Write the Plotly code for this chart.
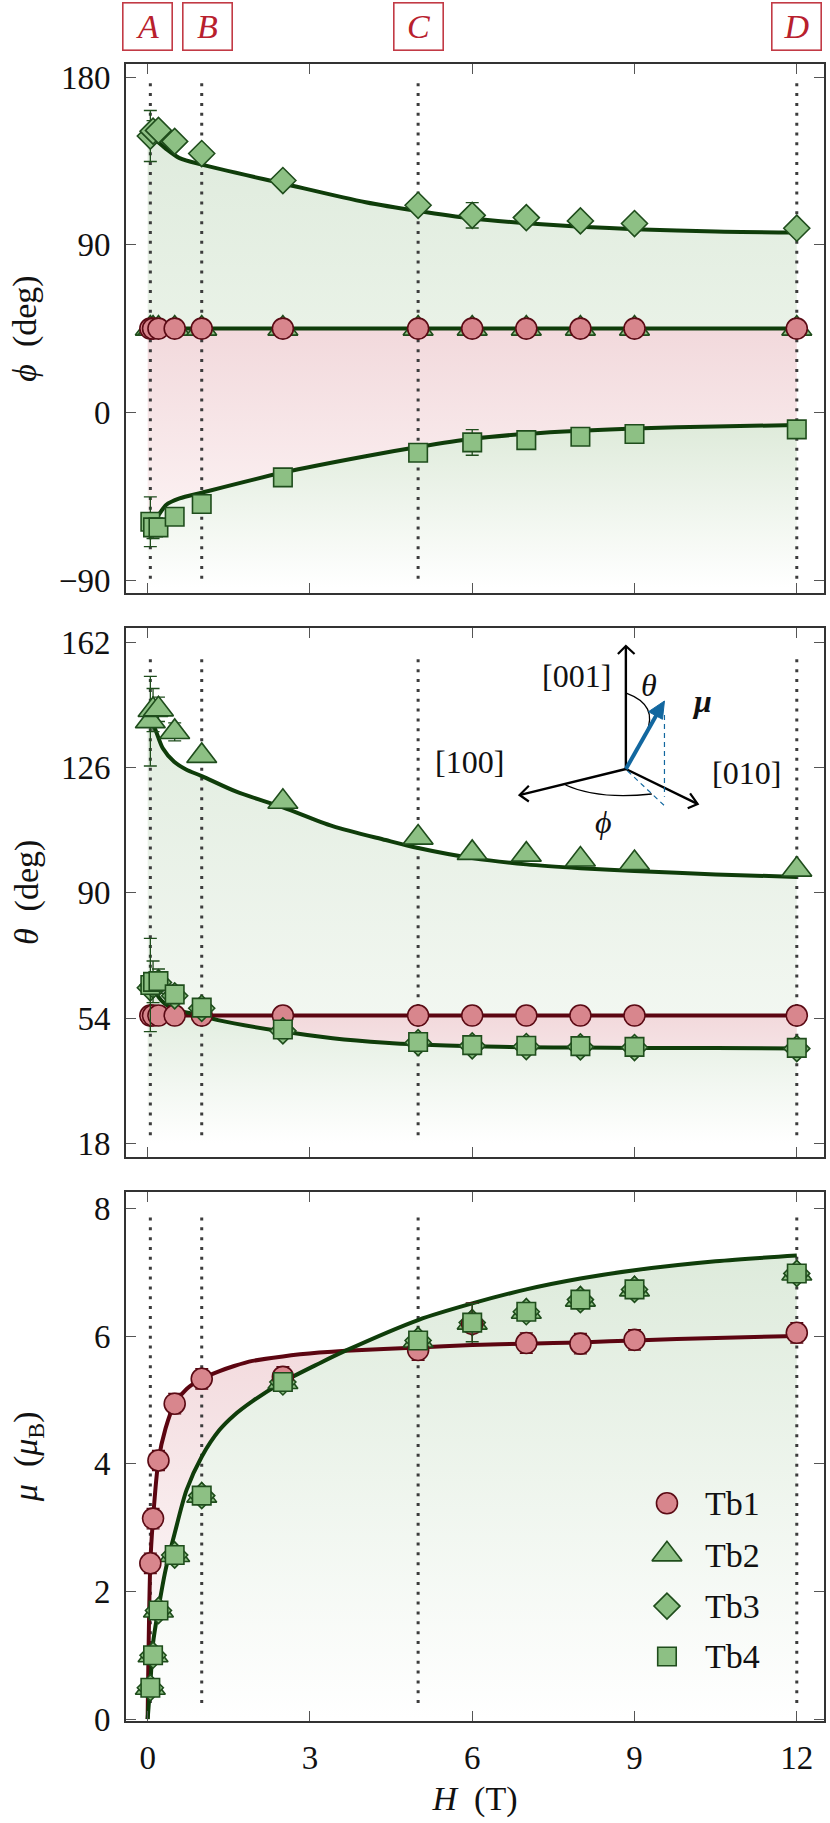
import plotly.graph_objects as go

# ---------- data ----------
H = [0.05, 0.1, 0.2, 0.5, 1, 2.5, 5, 6, 7, 8, 9, 12]

phi_tb1 = [45] * 12
phi_tb2 = [45] * 12
phi_tb3 = [148.4, 151, 151.4, 145.5, 139, 124.5, 111.2, 105.8, 104.6, 102.8, 101.4, 98.9]
phi_tb4 = [-58.7, -61.7, -61.7, -56, -49.2, -34.9, -21.7, -16.1, -14.9, -13.1, -11.6, -9.1]
phi_tb3_err = [13.7, 5.7, 0, 0, 0, 0, 0, 6.8, 0, 0, 0, 0]
phi_tb4_err = [13.4, 6, 0, 0, 0, 0, 0, 6.9, 0, 0, 0, 0]

phi_x = [0, 0.05, 0.1, 0.2, 0.34, 0.59, 1, 2.5, 4.03, 5, 6, 7, 8, 9, 10.5, 12]
phi_fit_tb3 = [151, 148.5, 147, 145, 141.5, 136.5, 133, 122.9, 112.8, 108.1, 104.1, 101.6, 99.7, 98.4, 97.1, 96.6]
phi_fit_tb4 = [-61, -59.5, -58, -55.1, -49.7, -46.2, -43.1, -32.3, -23.5, -18.6, -14.2, -11.5, -9.8, -8.7, -7.5, -6.8]
phi_fit_tb1 = [45] * 16

theta_tb1 = [54.7] * 12
theta_tb2 = [139.4, 142.6, 142.8, 136.3, 129.4, 116.2, 105.9, 101.5, 101, 99.6, 98.6, 96.7]
theta_tb3 = [62.7, 63.5, 64.2, 60.4, 56.8, 50.3, 46.9, 46, 45.8, 45.7, 45.5, 45.2]
theta_tb4 = [63.5, 64.4, 64.6, 60.8, 57, 50.7, 47.1, 46.2, 46, 45.9, 45.7, 45.4]
theta_tb2_err = [12.9, 6.2, 3.5, 2.6, 0, 0, 0, 0, 0, 0, 0, 0]
theta_tb4_err = [13.4, 6, 3.5, 2, 0, 0, 0, 0, 0, 0, 0, 0]

theta_up_x = [0, 0.05, 0.147, 0.28, 0.49, 0.71, 1, 1.64, 2.5, 3.42, 4.4, 5, 6, 7, 8, 9, 10.5, 12]
theta_fit_up = [141, 140, 136.8, 131.6, 127.7, 125.5, 123.6, 119.1, 114.6, 109.2, 105.2, 102.9, 100, 98.2, 97.1, 96.3, 95.3, 94.6]
theta_low_x = [0, 0.05, 0.1, 0.2, 0.45, 1, 1.3, 2.5, 3.42, 4.4, 5, 6, 7, 8, 9, 10.5, 12]
theta_fit_low = [66, 65, 64, 60.1, 56.8, 54.7, 53.4, 50.1, 48.2, 46.9, 46.4, 45.9, 45.6, 45.5, 45.4, 45.4, 45.2]
theta_fit_mid = [54.7] * 17

mu_tb1 = [2.44, 3.14, 4.05, 4.94, 5.33, 5.36, 5.78, 6.19, 5.89, 5.88, 5.94, 6.05]
mu_tb2 = [0.49, 1.0, 1.7, 2.57, 3.5, 5.28, 5.93, 6.21, 6.38, 6.57, 6.73, 6.98]
mu_tb3 = [0.49, 1.0, 1.7, 2.57, 3.5, 5.28, 5.93, 6.21, 6.38, 6.57, 6.73, 6.98]
mu_tb4 = [0.49, 1.0, 1.7, 2.57, 3.5, 5.28, 5.93, 6.21, 6.38, 6.57, 6.73, 6.98]
mu_tb1_err = [0.16, 0.16, 0.16, 0.16, 0.16, 0.16, 0.16, 0.33, 0.16, 0.16, 0.16, 0.16]
mu_tb4_err = [0, 0, 0, 0, 0, 0, 0, 0.3, 0, 0, 0, 0]

mu_x = [0, 0.05, 0.1, 0.2, 0.33, 0.5, 0.72, 1, 1.33, 1.6, 1.94, 2.5, 3.17, 3.66, 5, 6, 7, 8, 9, 10.5, 12]
mu_fit_red = [0, 2.44, 3.14, 4.05, 4.55, 4.94, 5.17, 5.33, 5.45, 5.53, 5.61, 5.68, 5.74, 5.77, 5.82, 5.86, 5.88, 5.9, 5.93, 5.97, 6.0]
mu_fit_green = [0, 0.55, 1.19, 1.73, 2.33, 2.91, 3.59, 4.11, 4.53, 4.76, 4.98, 5.28, 5.57, 5.77, 6.25, 6.51, 6.73, 6.9, 7.03, 7.17, 7.26]

x_ticks = [0, 3, 6, 9, 12]
phi_ticks = [-90, 0, 90, 180]
theta_ticks = [18, 54, 90, 126, 162]
mu_ticks = [0, 2, 4, 6, 8]
markers_field = [0.05, 1, 5, 12]
marker_labels = ["A", "B", "C", "D"]
marker_label_px = [147.5, 207.5, 419.5, 798]
species = ["Tb1", "Tb2", "Tb3", "Tb4"]
legend_x = 9.6
legend_y = [3.38, 2.58, 1.77, 0.98]
legend_text_y = [3.38, 2.57, 1.77, 0.98]

# ---------- style ----------
W, H_PX = 830, 1823
L, R, T, B = 126, 4, 64, 102
PW, PH = W - L - R, H_PX - T - B
FONT = "Liberation Serif"
GREEN = "#8dc084"; GREEN_E = "#1f4d1c"; PINK = "#d8868d"; PINK_E = "#5a0a14"
LINE_G = "#0f3d0a"; LINE_R = "#5c0511"; BLUE = "#12679f"; BOXRED = "#b8202d"
SMOOTH = 0.8


def px(x, y):
    return (x - L) / PW, (H_PX - B - y) / PH


def dom(y_top, y_bot):
    return [(H_PX - B - y_bot) / PH, (H_PX - B - y_top) / PH]


fig = go.Figure()


def add(tr, n):
    tr.update(xaxis="x" if n == 1 else f"x{n}", yaxis="y" if n == 1 else f"y{n}",
              showlegend=False)
    fig.add_trace(tr)


def band(n, xlow, ylow, xup, yup, c_bottom, c_top, g0, g1):
    add(go.Scatter(x=xlow, y=ylow, mode="lines",
                   line=dict(width=0, shape="spline", smoothing=SMOOTH), hoverinfo="skip"), n)
    add(go.Scatter(x=xup, y=yup, mode="lines",
                   line=dict(width=0, shape="spline", smoothing=SMOOTH),
                   fill="tonexty", hoverinfo="skip",
                   fillgradient=dict(type="vertical", start=g0, stop=g1,
                                     colorscale=[[0, c_bottom], [1, c_top]])), n)


def curve(n, x, y, color):
    add(go.Scatter(x=x, y=y, mode="lines", hoverinfo="skip",
                   line=dict(color=color, width=4, shape="spline", smoothing=SMOOTH)), n)


def dots(n, y0, y1):
    for xv in markers_field:
        add(go.Scatter(x=[xv, xv], y=[y0, y1], mode="lines", hoverinfo="skip",
                       line=dict(color="#3c3c3c", width=3, dash="3px,6.85px")), n)


def pts(n, name, x, y, sym, err=None):
    fill, edge = (PINK, PINK_E) if name == "Tb1" else (GREEN, GREEN_E)
    size = {"circle": 21, "triangle-up": 26, "diamond": 20, "square": 18.5}[sym]
    tr = go.Scatter(x=x, y=y, mode="markers", name=name,
                    marker=dict(symbol=sym, size=size, color=fill,
                                line=dict(color=edge, width=1.6)))
    if err is not None:
        tr.update(error_y=dict(type="data", array=err, color=edge, thickness=1.3, width=6.5))
    add(tr, n)


SYM = dict(zip(species, ["circle", "triangle-up", "diamond", "square"]))

# ---- panel 1: phi
band(1, phi_x, phi_fit_tb1, phi_x, phi_fit_tb3, "#e9f2e7", "#dfebdd", 45, 150)
band(1, phi_x, phi_fit_tb4, phi_x, phi_fit_tb1, "#fcf2f3", "#f2d9dc", -60, 45)
band(1, phi_x, [-96] * len(phi_x), phi_x, phi_fit_tb4, "#ffffff", "#dfebdb", -94, -8)
dots(1, -89.3, 180)
curve(1, phi_x, phi_fit_tb3, LINE_G)
curve(1, phi_x, phi_fit_tb1, LINE_G)
curve(1, phi_x, phi_fit_tb4, LINE_G)
pts(1, "Tb2", H, phi_tb2, SYM["Tb2"])
pts(1, "Tb1", H, phi_tb1, SYM["Tb1"])
pts(1, "Tb3", H, phi_tb3, SYM["Tb3"], phi_tb3_err)
pts(1, "Tb4", H, phi_tb4, SYM["Tb4"], phi_tb4_err)

# ---- panel 2: theta
upper_base = [max(v, m) for v, m in zip(theta_fit_low, theta_fit_mid)]
band(2, theta_low_x, upper_base, theta_up_x, theta_fit_up, "#f2f7f1", "#e2ede0", 54, 140)
band(2, theta_low_x[5:], theta_fit_low[5:], theta_low_x[5:], theta_fit_mid[5:], "#f5e2e4", "#f2d9dc", 45, 54.7)
band(2, theta_low_x, [15] * len(theta_low_x), theta_low_x, theta_fit_low, "#ffffff", "#e3eee1", 18, 54)
dots(2, 20.3, 158.9)
curve(2, theta_up_x, theta_fit_up, LINE_G)
curve(2, theta_low_x, theta_fit_mid, LINE_R)
curve(2, theta_low_x, theta_fit_low, LINE_G)
pts(2, "Tb2", H, theta_tb2, SYM["Tb2"], theta_tb2_err)
pts(2, "Tb1", H, theta_tb1, SYM["Tb1"])
pts(2, "Tb3", H, theta_tb3, SYM["Tb3"])
pts(2, "Tb4", H, theta_tb4, SYM["Tb4"], theta_tb4_err)

# ---- panel 3: mu
band(3, mu_x, [0] * len(mu_x), mu_x, mu_fit_green, "#ffffff", "#deebdc", 0, 7.2)
band(3, mu_x[:14], mu_fit_green[:14], mu_x[:14], mu_fit_red[:14], "#ffffff", "#f3dbde", 0, 5.8)
dots(3, 0.25, 7.93)
curve(3, mu_x, mu_fit_red, LINE_R)
curve(3, mu_x, mu_fit_green, LINE_G)
pts(3, "Tb2", H, mu_tb2, SYM["Tb2"])
pts(3, "Tb3", H, mu_tb3, SYM["Tb3"])
pts(3, "Tb1", H, mu_tb1, SYM["Tb1"], mu_tb1_err)
pts(3, "Tb4", H, mu_tb4, SYM["Tb4"], mu_tb4_err)
# key drawn inside the panel
for nm, yv in zip(species, legend_y):
    pts(3, nm, [legend_x], [yv], SYM[nm])

# ---------- axes ----------
axis_common = dict(showgrid=False, zeroline=False, showline=True, mirror="ticks",
                   linecolor="#333333", linewidth=1.8, ticks="inside", ticklen=10,
                   tickwidth=1.2, tickcolor="#555555",
                   tickfont=dict(family=FONT, size=33, color="#111111"))
xrange_ = [-0.4, 12.503]
doms = [dom(64.3, 592.7), dom(628, 1156.7), dom(1191.7, 1721)]
TF = dict(family=FONT, size=34, color="#111111")
NB = "\u00a0"
fig.update_layout(
    width=W, height=H_PX, margin=dict(l=L, r=R, t=T, b=B),
    paper_bgcolor="white", plot_bgcolor="white", showlegend=False,
    font=dict(family=FONT),
    xaxis=dict(axis_common, range=xrange_, domain=[0, 1], tickvals=x_ticks, showticklabels=False, anchor="y"),
    xaxis2=dict(axis_common, range=xrange_, domain=[0, 1], tickvals=x_ticks, showticklabels=False, anchor="y2"),
    xaxis3=dict(axis_common, range=xrange_, domain=[0, 1], tickvals=x_ticks, anchor="y3", ticklabelstandoff=6,
                title=dict(text=f"<i>H</i>{NB} (T)", font=TF, standoff=12)),
    yaxis=dict(axis_common, range=[-96.8, 186.9], domain=doms[0], tickvals=phi_ticks, anchor="x", ticklabelstandoff=7,
               title=dict(text=f"<i>ϕ</i>{NB} (deg)", font=TF, standoff=12)),
    yaxis2=dict(axis_common, range=[14.1, 166.2], domain=doms[1], tickvals=theta_ticks, anchor="x2", ticklabelstandoff=7,
                title=dict(text=f"<i>θ</i>{NB} (deg)", font=TF, standoff=12)),
    yaxis3=dict(axis_common, range=[-0.03, 8.26], domain=doms[2], tickvals=mu_ticks, anchor="x3", ticklabelstandoff=7,
                title=dict(text=f"<i>μ</i>{NB} (<i>μ</i><sub>B</sub>)", font=TF, standoff=46)),
)

# ---------- labelled boxes and inset ----------
ann = []
for lab, cx in zip(marker_labels, marker_label_px):
    ax, ay = px(cx, 27)
    ann.append(dict(xref="paper", yref="paper", x=ax, y=ay, xanchor="center", yanchor="middle",
                    text=f"<i>{lab}</i>", showarrow=False, width=48, height=46, borderpad=0,
                    bordercolor="#c23a45", borderwidth=1.6, align="center", valign="middle",
                    font=dict(family=FONT, size=34, color=BOXRED)))
for txt, cx, cy, sz in [("[001]", 578, 676, 32), ("<i>θ</i>", 650, 685, 32),
                        ("<b><i>μ</i></b>", 704, 701, 32), ("[100]", 470, 762, 32),
                        ("[010]", 748, 773, 32), ("<i>ϕ</i>", 605, 822, 32)]:
    ax, ay = px(cx, cy)
    ann.append(dict(xref="paper", yref="paper", x=ax, y=ay, xanchor="center", yanchor="middle",
                    text=txt, showarrow=False, font=dict(family=FONT, size=sz, color="#111111")))
for nm, yv in zip(species, legend_text_y):
    ann.append(dict(xref="x3", yref="y3", x=legend_x + 0.67, y=yv,
                    xanchor="left", yanchor="middle", text=nm, showarrow=False,
                    font=dict(family=FONT, size=34, color="#111111")))
fig.update_layout(annotations=ann)


def seg(p0, p1, color="black", width=2.4, dash=None):
    a, b = px(*p0), px(*p1)
    return dict(type="line", xref="paper", yref="paper", x0=a[0], y0=a[1], x1=b[0], y1=b[1],
                line=dict(color=color, width=width, dash=dash))


def path(points, color="black", width=1.3, fill=None, cmd="L"):
    pp = [px(*p) for p in points]
    if cmd == "Q":
        d = f"M{pp[0][0]},{pp[0][1]} Q{pp[1][0]},{pp[1][1]} {pp[2][0]},{pp[2][1]}"
    else:
        d = f"M{pp[0][0]},{pp[0][1]} " + " ".join(f"L{q[0]},{q[1]}" for q in pp[1:])
        if fill:
            d += " Z"
    s = dict(type="path", xref="paper", yref="paper", path=d, line=dict(color=color, width=width))
    if fill:
        s["fillcolor"] = fill
    return s


O = (627.3, 769)
shapes = [
    seg(O, (627.3, 647)), path([(619.3, 654), (627.3, 646), (636, 654)], width=2.2),
    seg(O, (521.5, 794.8)), path([(530, 785.7), (520.7, 795), (530, 801.5)], width=2.2),
    seg(O, (698.5, 803.6)), path([(691.7, 793.3), (699.3, 804), (689.3, 808.3)], width=2.2),
    seg((666, 715), (666, 796.7), BLUE, 1.2, "5px,4px"),
    seg((629, 771), (666, 805.7), BLUE, 1.2, "5px,4px"),
    path([(628.3, 693.3), (660, 705), (647.7, 733.3)], cmd="Q"),
    path([(566.7, 785), (600, 800), (653.3, 794)], cmd="Q"),
    seg(O, (658, 715), BLUE, 4),
    path([(666, 701), (650, 711.7), (664, 719.3)], BLUE, 1, BLUE),
]
fig.update_layout(shapes=shapes)

fig.write_html("out.html", config=dict(displayModeBar=False),
               post_script="document.body.style.margin='0';document.body.style.overflow='hidden';")
